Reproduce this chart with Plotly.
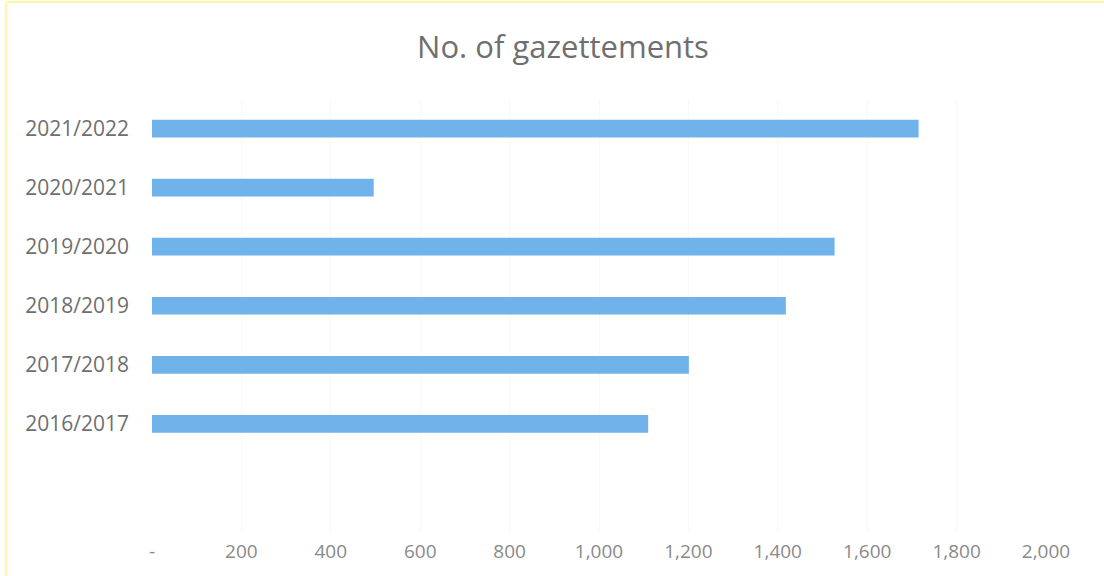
import plotly.graph_objects as go

categories = ["2016/2017", "2017/2018", "2018/2019", "2019/2020", "2020/2021", "2021/2022"]
values = [1110, 1201, 1418, 1527, 496, 1715]
tick_vals = [0, 200, 400, 600, 800, 1000, 1200, 1400, 1600, 1800, 2000]
tick_text = ["-", "200", "400", "600", "800", "1,000", "1,200", "1,400", "1,600", "1,800", "2,000"]

L, R, T, B = 152, 58, 99, 44
W, H = 1104, 576
pw, ph = W - L - R, H - T - B

fig = go.Figure(go.Bar(
    y=categories, x=values, orientation="h",
    marker=dict(color="#70b2ea", line=dict(width=0)),
    width=0.30,
))

def px_x(p):
    return (p - L) / pw

def px_y(p):
    return (H - B - p) / ph

shapes = [
    dict(type="line", xref="paper", yref="paper", x0=px_x(6), x1=px_x(1104), y0=px_y(2), y1=px_y(2),
         line=dict(color="#fdf7a6", width=2)),
    dict(type="line", xref="paper", yref="paper", x0=px_x(6), x1=px_x(6), y0=px_y(2), y1=px_y(576),
         line=dict(color="#fdf7a6", width=2)),
]

fig.update_layout(
    width=W, height=H,
    margin=dict(l=L, r=R, t=T, b=B),
    paper_bgcolor="white", plot_bgcolor="white",
    title=dict(text="No. of gazettements", x=563 / W, xanchor="center", y=1 - 47 / H,
               yanchor="middle", font=dict(family="Open Sans", size=31, color="#6f6f6f")),
    xaxis=dict(range=[0, 2000], tickvals=tick_vals, ticktext=tick_text, showgrid=True,
               gridcolor="#f8f8f8", zeroline=False, showline=False, ticks="",
               tickfont=dict(family="Open Sans", size=19, color="#8a8a8a"), ticklabelstandoff=6),
    yaxis=dict(type="category", categoryorder="array", categoryarray=categories,
               range=[-1.83, 5.5], showgrid=False, zeroline=False, showline=False, ticks="",
               tickfont=dict(family="Open Sans", size=21, color="#6f6f6f"), ticklabelstandoff=22),
    shapes=shapes,
    showlegend=False,
)

fig.write_html("out.html")
